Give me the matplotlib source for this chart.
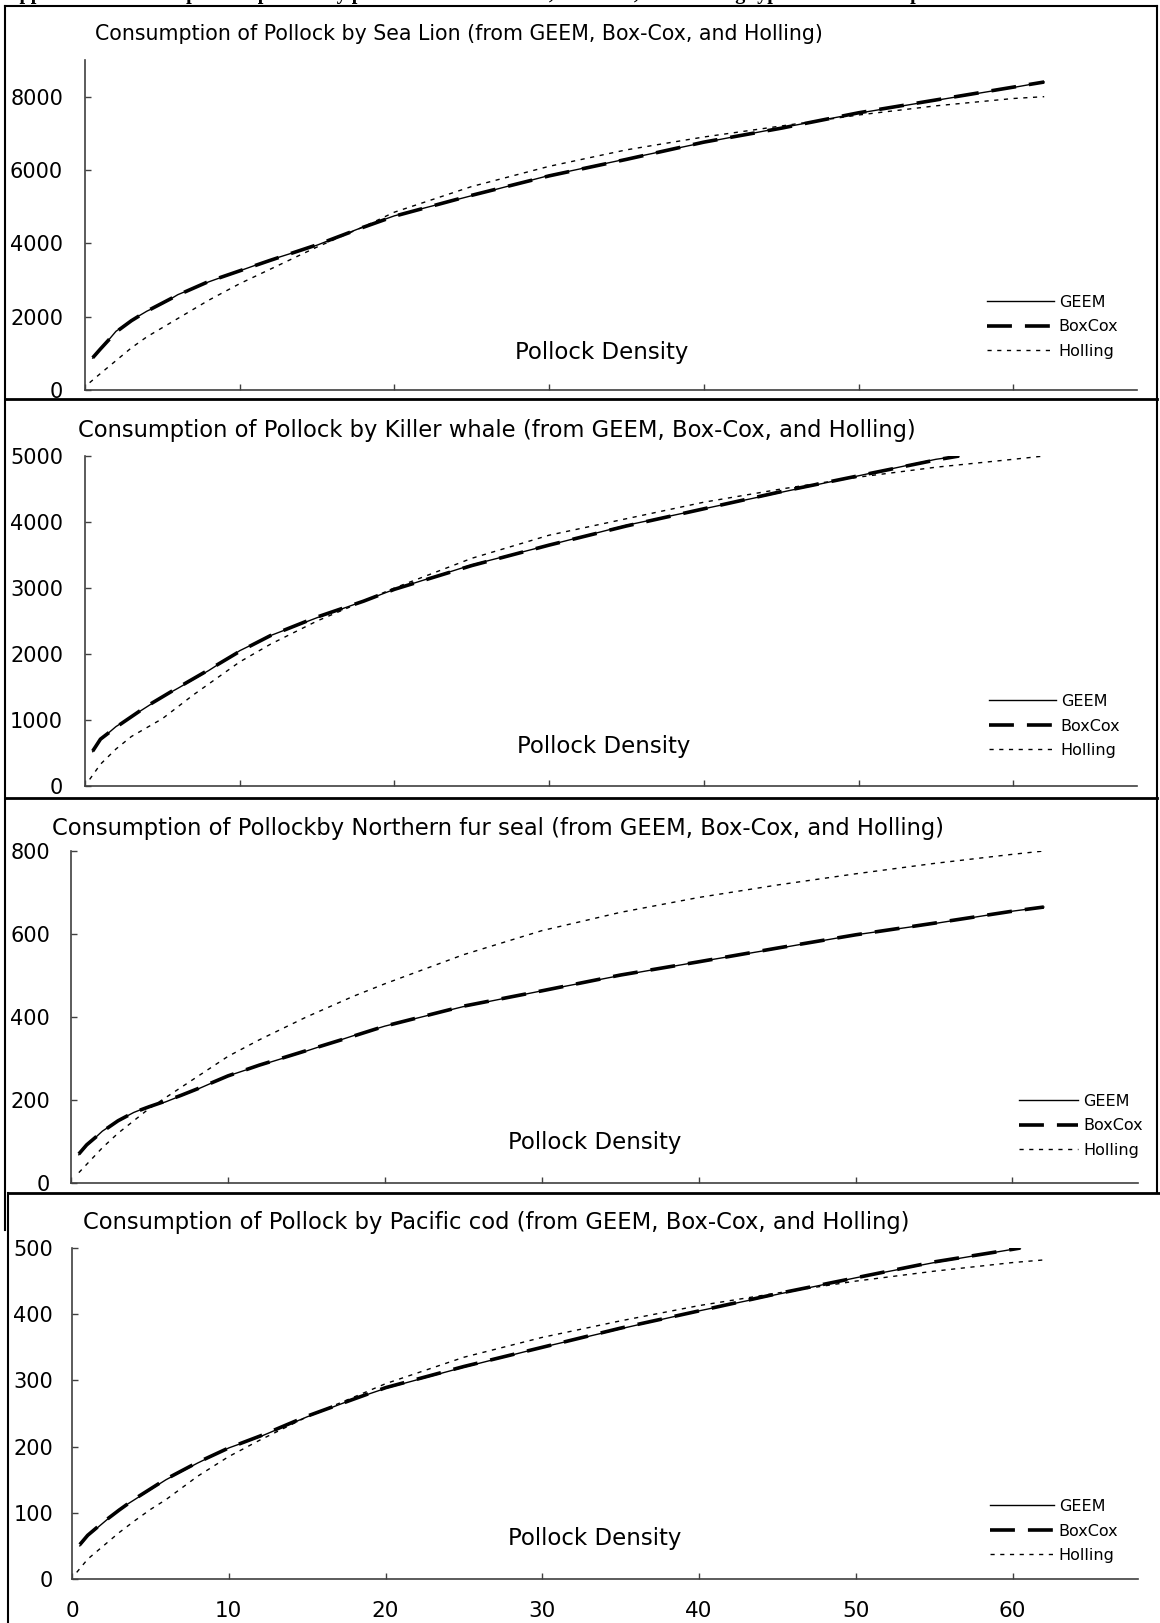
import matplotlib.pyplot as plt
from matplotlib.lines import Line2D

W, H = 1160, 1623
plt.rcParams['font.family'] = 'DejaVu Sans'

# Sea lion
x_sl = [0.5, 1, 2, 3, 4, 5, 6, 8, 10, 12, 15, 18, 20, 25, 30, 35, 40, 45, 50, 55, 60, 62]
geem_sl = [870, 1100, 1600, 1900, 2150, 2350, 2600, 2950, 3250, 3550, 3950, 4450, 4750,
           5300, 5850, 6300, 6750, 7150, 7550, 7900, 8250, 8400]
boxcox_sl = [880, 1120, 1580, 1890, 2150, 2370, 2590, 2960, 3250, 3540, 3960, 4440, 4740,
             5310, 5840, 6290, 6760, 7140, 7560, 7910, 8260, 8400]
xh_sl = [0.3, 1, 2, 3, 4, 5, 6, 8, 10, 12, 15, 18, 20, 25, 30, 35, 40, 45, 50, 55, 60, 62]
holling_sl = [200, 450, 800, 1150, 1450, 1700, 1950, 2450, 2900, 3300, 3900, 4450, 4850,
              5550, 6100, 6550, 6900, 7200, 7500, 7750, 7950, 8000]

# Killer whale
x_kw = [0.5, 1, 2, 3, 4, 5, 6, 8, 10, 12, 15, 18, 20, 25, 30, 35, 40, 45, 50, 55, 56.5]
geem_kw = [520, 700, 900, 1050, 1200, 1350, 1480, 1750, 2050, 2280, 2550, 2800, 2980,
           3350, 3650, 3950, 4200, 4450, 4700, 4950, 5000]
boxcox_kw = [530, 710, 890, 1050, 1210, 1350, 1490, 1760, 2040, 2280, 2560, 2800, 2980,
             3340, 3650, 3940, 4200, 4460, 4700, 4940, 5000]
xh_kw = [0.3, 1, 2, 3, 5, 7, 10, 12, 15, 18, 20, 25, 30, 35, 40, 45, 50, 55, 60, 62]
holling_kw = [100, 330, 560, 750, 1020, 1380, 1880, 2150, 2500, 2800, 3000, 3450, 3800,
              4050, 4300, 4500, 4680, 4830, 4950, 5000]

# Northern fur seal
x_fs = [0.5, 1, 2, 3, 4, 5, 6, 7, 8, 10, 12, 15, 18, 20, 25, 30, 35, 40, 45, 50, 55, 60, 62]
geem_fs = [68, 90, 125, 150, 170, 185, 195, 210, 225, 258, 283, 318, 355, 378, 425, 463,
           500, 533, 565, 598, 625, 655, 665]
boxcox_fs = [70, 92, 124, 150, 170, 184, 197, 211, 226, 258, 284, 319, 354, 378, 426, 463,
             501, 533, 566, 598, 626, 655, 665]
xh_fs = [0.5, 1, 2, 3, 4, 5, 6, 7, 8, 10, 12, 15, 18, 20, 25, 30, 35, 40, 45, 50, 55, 60, 62]
holling_fs = [25, 45, 85, 120, 150, 180, 205, 230, 255, 305, 345, 400, 450, 480, 550, 608,
              652, 688, 718, 745, 770, 792, 800]

# Pacific cod
x_pc = [0.5, 1, 2, 3, 4, 5, 6, 8, 10, 12, 15, 18, 20, 25, 30, 35, 40, 45, 50, 55, 60, 60.5]
geem_pc = [50, 65, 85, 105, 120, 135, 150, 175, 198, 215, 245, 272, 288, 320, 350, 378,
           405, 430, 455, 478, 498, 500]
boxcox_pc = [52, 66, 86, 104, 121, 136, 151, 176, 198, 216, 246, 272, 289, 321, 350, 379,
             405, 431, 455, 479, 498, 500]
xh_pc = [0.3, 1, 2, 3, 4, 5, 6, 8, 10, 12, 15, 18, 20, 25, 30, 35, 40, 45, 50, 55, 60, 62]
holling_pc = [10, 30, 50, 70, 88, 105, 120, 155, 185, 210, 245, 275, 295, 335, 365, 390,
              413, 432, 450, 465, 478, 482]

titles = [
    'Consumption of Pollock by Sea Lion (from GEEM, Box-Cox, and Holling)',
    'Consumption of Pollock by Killer whale (from GEEM, Box-Cox, and Holling)',
    'Consumption of Pollockby Northern fur seal (from GEEM, Box-Cox, and Holling)',
    'Consumption of Pollock by Pacific cod (from GEEM, Box-Cox, and Holling)',
]
y_ticks = [
    [0, 2000, 4000, 6000, 8000],
    [0, 1000, 2000, 3000, 4000, 5000],
    [0, 200, 400, 600, 800],
    [0, 100, 200, 300, 400, 500],
]
y_max = [9000, 5000, 800, 500]
x_ticks = [0, 10, 20, 30, 40, 50, 60]
series = [
    (x_sl, geem_sl, boxcox_sl, xh_sl, holling_sl),
    (x_kw, geem_kw, boxcox_kw, xh_kw, holling_kw),
    (x_fs, geem_fs, boxcox_fs, xh_fs, holling_fs),
    (x_pc, geem_pc, boxcox_pc, xh_pc, holling_pc),
]

# layout in pixels: axes box, title, label, legend
layout = [
    dict(box=(85, 1137, 390, 60), title=(95, 34, 14.8), lab=(602, 353),
         leg=(987, 327, 4.2), ypad=15.8),
    dict(box=(85, 1137, 786, 456), title=(78, 431, 16.3), lab=(604, 746),
         leg=(989, 726, 4.2), ypad=15.8),
    dict(box=(71, 1138, 1183, 851), title=(52, 828, 16.3), lab=(595, 1143),
         leg=(1019, 1126, 3.7), ypad=15.1),
    dict(box=(72, 1138, 1579, 1248), title=(83, 1222, 16.3), lab=(595, 1539),
         leg=(990, 1531, 4.0), ypad=13.7),
]

fig = plt.figure(figsize=(W / 100, H / 100), dpi=100)


def fx(px):
    return px / W


def fy(py):
    return 1 - py / H


def hline(y, x0, x1, lw=1.5):
    fig.add_artist(Line2D([fx(x0), fx(x1)], [fy(y), fy(y)], color='black', lw=lw))


def vline(x, y0, y1, lw=1.5):
    fig.add_artist(Line2D([fx(x), fx(x)], [fy(y0), fy(y1)], color='black', lw=lw))


for i, (cfg, (xg, geem, boxcox, xh, holling)) in enumerate(zip(layout, series)):
    left, right, bottom, top = cfg['box']
    ax = fig.add_axes([fx(left), fy(bottom), (right - left) / W, (bottom - top) / H])
    ax.plot(xg, geem, color='black', lw=1.0, label='GEEM')
    ax.plot(xg, boxcox, color='black', lw=2.6, dashes=(6.9, 3.6), label='BoxCox')
    ax.plot(xh, holling, color='black', lw=1.0, dashes=(3, 4), label='Holling')
    ax.set_xlim(0, 68)
    ax.set_ylim(0, y_max[i])
    ax.set_xticks(x_ticks)
    ax.set_yticks(y_ticks[i])
    for s in ['top', 'right']:
        ax.spines[s].set_visible(False)
    for s in ['left', 'bottom']:
        ax.spines[s].set_color('#404040')
        ax.spines[s].set_linewidth(1.2)
    ax.tick_params(direction='in', length=4, width=1, color='#404040')
    ax.tick_params(axis='y', labelsize=15, pad=cfg['ypad'])
    if i < 3:
        ax.tick_params(axis='x', labelbottom=False)
    else:
        ax.tick_params(axis='x', labelsize=15.5, pad=16)

    lx, ly, hl = cfg['leg']
    ax.legend(loc='center left', bbox_to_anchor=(fx(lx), fy(ly)),
              bbox_transform=fig.transFigure, frameon=False, fontsize=11.5,
              handlelength=hl, handletextpad=0.3, labelspacing=0.6,
              borderpad=0, borderaxespad=0)

    tx, ty, ts = cfg['title']
    fig.text(fx(tx), fy(ty), titles[i], fontsize=ts, ha='left', va='center')
    px, py = cfg['lab']
    fig.text(fx(px), fy(py), 'Pollock Density', fontsize=16.5, ha='center', va='center')

# panel frames
hline(6, 5, 1157)
hline(399, 5, 1157, lw=2)
hline(798, 5, 1157, lw=2)
hline(1193, 8, 1160, lw=2)
vline(5, 6, 1230)
vline(1157, 6, 1193)
vline(8, 1193, 1623)

# heading line running off the top edge
fig.text(fx(5), 1 + 1.5 / H,
         'Appendix 3. Consumption of pollock by predators from GEEM, Box-Cox, and Holling type functional responses',
         fontsize=14.5, fontfamily='Liberation Serif', fontweight='bold',
         ha='left', va='baseline')

fig.savefig('out.png', dpi=100, facecolor='white')
